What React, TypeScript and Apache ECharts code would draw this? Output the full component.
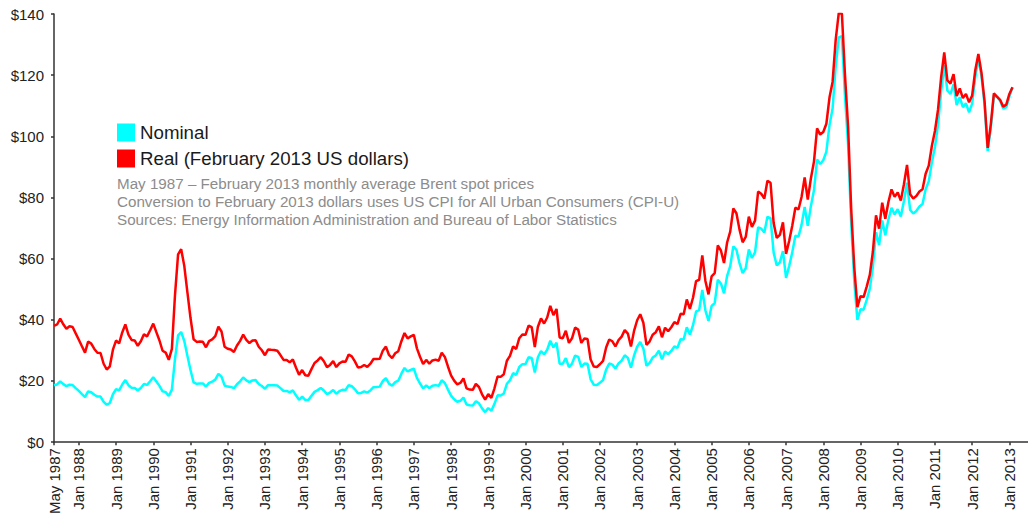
import React, { useEffect, useRef } from "react";
import * as echarts from "echarts";

const MONTHS = ["Jan", "Feb", "Mar", "Apr", "May", "Jun", "Jul", "Aug", "Sep", "Oct", "Nov", "Dec"];
const START_YEAR = 1987;
const START_MONTH = 4; // May
const AXIS_MONTHS = 315; // May 1987 .. Jul 2013 (axis runs a little past the data)

// Monthly average Brent spot price, nominal US$ (May 1987 – Feb 2013)
const nominal: number[] = [
  18.58, 18.86, 19.86, 18.98, 18.31, 18.76, 18.67, 17.67,
  16.75, 15.73, 14.73, 16.6, 16.31, 15.49, 14.9, 14.91, 13.15, 12.22, 12.8, 15.66,
  17.33, 16.91, 18.85, 20.31, 18.61, 17.76, 17.74, 16.87, 17.72, 19.02, 18.72, 19.89,
  21.25, 19.81, 18.39, 16.61, 16.35, 15.1, 17.17, 27.17, 34.9, 36.02, 33.07, 28.27,
  23.57, 19.54, 19.08, 19.18, 19.19, 18.17, 19.4, 19.77, 20.45, 22.3, 21.43, 18.53,
  18.16, 18.05, 17.63, 18.92, 19.89, 21.16, 20.21, 19.61, 20.17, 20.28, 19.02, 18.37,
  17.45, 18.63, 18.6, 18.63, 18.51, 17.66, 16.71, 16.74, 16.27, 16.91, 15.3, 13.84,
  14.84, 13.8, 13.74, 15.13, 16.43, 17.0, 17.72, 16.9, 15.71, 16.21, 17.04, 15.83,
  16.67, 17.11, 17.06, 18.64, 18.29, 17.26, 15.96, 16.09, 16.58, 16.2, 16.91, 17.97,
  18.05, 18.15, 19.98, 20.93, 19.14, 18.49, 19.61, 20.1, 22.37, 24.25, 23.1, 23.62,
  24.06, 21.04, 19.17, 17.56, 18.52, 17.68, 18.44, 18.64, 18.43, 20.23, 19.32, 17.18,
  15.19, 14.01, 13.19, 13.51, 14.56, 12.3, 12.05, 12.01, 13.38, 12.69, 11.02, 9.82,
  11.12, 10.27, 12.51, 15.29, 15.23, 15.86, 19.08, 20.25, 22.55, 21.98, 24.58, 25.5,
  25.51, 27.78, 27.49, 22.76, 27.74, 29.8, 28.68, 30.2, 33.14, 30.96, 32.55, 25.66,
  25.62, 27.5, 24.5, 25.66, 28.31, 27.85, 24.61, 25.68, 25.62, 20.54, 18.8, 18.71,
  19.42, 20.28, 23.7, 25.73, 25.35, 24.08, 25.74, 26.65, 28.4, 27.54, 24.34, 28.33,
  31.18, 32.77, 30.61, 25.0, 25.86, 27.65, 28.35, 29.89, 27.11, 29.61, 28.75, 29.81,
  31.28, 30.86, 33.63, 33.59, 37.57, 35.18, 38.22, 42.74, 43.2, 49.78, 43.11, 39.6,
  44.51, 45.48, 53.1, 51.88, 48.65, 54.35, 57.52, 63.98, 62.91, 58.54, 55.24, 56.86,
  62.99, 60.21, 62.06, 70.26, 69.78, 68.56, 73.67, 73.23, 61.96, 57.81, 58.76, 62.47,
  53.68, 57.56, 62.05, 67.49, 67.21, 71.05, 76.93, 70.76, 77.17, 82.34, 92.41, 90.93,
  92.18, 94.99, 103.64, 109.07, 122.8, 132.32, 132.72, 113.24, 97.23, 71.58, 52.45, 39.95,
  43.44, 43.32, 46.54, 50.18, 57.3, 68.61, 64.44, 72.51, 67.65, 72.77, 76.66, 74.46,
  76.17, 73.75, 78.83, 84.82, 75.95, 74.76, 75.58, 77.04, 77.84, 82.67, 85.28, 91.45,
  96.52, 103.72, 114.64, 123.26, 114.99, 113.83, 116.97, 110.22, 112.83, 109.55, 110.77, 107.87,
  110.69, 119.33, 125.45, 119.75, 110.34, 95.16, 102.62, 113.36, 112.86, 111.71, 109.06, 109.49,
  112.96, 116.05,
];

// Same prices in February 2013 US dollars
const real: number[] = [
  38.01, 38.47, 40.42, 38.53, 37.08, 37.9, 37.64, 35.55,
  33.5, 31.37, 29.27, 32.88, 32.21, 30.48, 29.23, 29.15, 25.63, 23.74, 24.78, 30.22,
  33.22, 32.3, 35.87, 38.51, 35.15, 33.42, 33.26, 31.51, 32.98, 35.26, 34.58, 36.6,
  38.74, 35.96, 33.23, 29.88, 29.28, 26.92, 30.48, 48.01, 61.39, 63.07, 57.64, 49.05,
  40.66, 33.63, 32.78, 32.87, 32.81, 31.02, 33.04, 33.59, 34.68, 37.73, 36.17, 31.2,
  30.53, 30.27, 29.5, 31.58, 33.12, 35.15, 33.47, 32.4, 33.24, 33.34, 31.19, 30.05,
  28.41, 30.27, 30.17, 30.14, 29.89, 28.47, 26.89, 26.88, 26.08, 27.04, 24.42, 22.05,
  23.57, 21.87, 21.72, 23.88, 25.88, 26.71, 27.78, 26.45, 24.52, 25.25, 26.48, 24.55,
  25.76, 26.38, 26.26, 28.63, 28.04, 26.41, 24.39, 24.54, 25.23, 24.61, 25.64, 27.19,
  27.15, 27.23, 29.91, 31.25, 28.5, 27.48, 29.06, 29.73, 33.0, 35.67, 33.91, 34.58,
  35.1, 30.66, 27.91, 25.53, 26.89, 25.65, 26.72, 26.97, 26.63, 29.21, 27.86, 24.74,
  21.83, 20.1, 18.9, 19.35, 20.82, 17.56, 17.18, 17.1, 19.03, 18.03, 15.64, 13.92,
  15.71, 14.48, 17.6, 21.47, 21.34, 22.17, 26.62, 28.19, 31.32, 30.46, 33.99, 35.19,
  35.1, 38.11, 37.61, 31.07, 37.75, 40.44, 38.8, 40.74, 44.57, 41.55, 43.55, 34.23,
  33.97, 36.44, 32.44, 33.95, 37.43, 36.79, 32.46, 33.85, 33.74, 27.03, 24.72, 24.59,
  25.46, 26.55, 30.95, 33.55, 32.98, 31.28, 33.36, 34.49, 36.66, 35.5, 31.3, 36.38,
  39.85, 41.82, 39.03, 31.83, 32.89, 35.12, 35.95, 37.87, 34.29, 37.4, 36.28, 37.56,
  39.23, 38.61, 41.97, 41.82, 46.66, 43.59, 47.2, 52.66, 53.09, 61.03, 52.72, 48.31,
  54.21, 55.26, 64.3, 62.67, 58.57, 65.27, 68.85, 76.39, 74.86, 69.49, 65.35, 67.09,
  73.76, 70.39, 72.42, 81.92, 81.22, 79.67, 85.46, 84.8, 71.63, 66.77, 67.75, 71.9,
  61.57, 65.79, 70.74, 76.67, 76.08, 80.14, 86.55, 79.32, 86.2, 91.73, 102.58, 100.57,
  101.4, 104.11, 112.66, 117.8, 131.52, 140.39, 140.15, 120.03, 103.16, 76.3, 56.96, 44.14,
  47.74, 47.44, 50.87, 54.7, 62.34, 74.17, 69.79, 78.31, 73.06, 78.52, 82.64, 80.27,
  81.65, 78.97, 84.32, 90.63, 81.06, 79.7, 80.49, 81.95, 82.71, 87.74, 90.41, 96.84,
  101.73, 108.8, 119.34, 127.45, 118.33, 117.24, 120.36, 113.2, 115.65, 112.51, 113.87, 111.11,
  113.35, 121.6, 126.96, 120.83, 111.44, 96.21, 103.85, 114.04, 112.97, 111.93, 109.71, 110.37,
  113.86, 116.05,
];

const yTicks = { min: 0, max: 140, interval: 20 };

const notes: string[] = [
  "May 1987 \u2013 February 2013 monthly average Brent spot prices",
  "Conversion to February 2013 dollars uses US CPI for All Urban Consumers (CPI-U)",
  "Sources: Energy Information Administration and Bureau of Labor Statistics",
];

const categories: string[] = [];
for (let i = 0; i < AXIS_MONTHS; i++) {
  const m = (START_MONTH + i) % 12;
  const y = START_YEAR + Math.floor((START_MONTH + i) / 12);
  categories.push(`${MONTHS[m]} ${y}`);
}

const pad = (arr: number[]) => {
  const out: (number | null)[] = arr.slice();
  while (out.length < AXIS_MONTHS) out.push(null);
  return out;
};

const FONT = "'Liberation Sans', Arial, sans-serif";

export default function App() {
  const ref = useRef<HTMLDivElement>(null);
  useEffect(() => {
    if (!ref.current) return;
    const chart = echarts.init(ref.current, null, { renderer: "svg" });
    const showIdx = (index: number) => index === 0 || categories[index].startsWith("Jan");
    chart.setOption({
      animation: false,
      backgroundColor: "#ffffff",
      textStyle: { fontFamily: FONT },
      grid: { left: 54, width: 974, top: 14, height: 433, containLabel: false },
      legend: {
        orient: "vertical",
        left: 117,
        top: 123,
        padding: 0,
        itemWidth: 18,
        itemHeight: 18,
        itemGap: 7,
        icon: "rect",
        textStyle: { fontSize: 18.7, color: "#1a1a1a", fontFamily: FONT },
        data: ["Nominal", "Real (February 2013 US dollars)"],
      },
      graphic: notes.map((t, i) => ({
        type: "text",
        left: 117,
        top: 176 + i * 18,
        style: { text: t, fill: "#8c8c8c", fontSize: 15.2, fontFamily: FONT },
      })),
      xAxis: {
        type: "category",
        data: categories,
        boundaryGap: false,
        axisLine: { show: true, lineStyle: { color: "#333", width: 1.5 } },
        axisTick: { show: true, length: 3, interval: (i: number) => showIdx(i), lineStyle: { color: "#333", width: 1.5 } },
        axisLabel: {
          interval: (i: number) => showIdx(i),
          rotate: 90,
          margin: 6,
          fontSize: 15,
          color: "#222",
          fontFamily: FONT,
        },
        splitLine: { show: false },
      },
      yAxis: {
        type: "value",
        min: yTicks.min,
        max: yTicks.max,
        interval: yTicks.interval,
        axisLine: { show: true, lineStyle: { color: "#333", width: 1.5 } },
        axisTick: { show: true, length: 3, lineStyle: { color: "#333", width: 1.5 } },
        axisLabel: { formatter: "${value}", fontSize: 15, color: "#222", margin: 10, fontFamily: FONT },
        splitLine: { show: false },
      },
      series: [
        {
          name: "Nominal",
          type: "line",
          data: pad(nominal),
          symbol: "none",
          color: "#00ffff",
          lineStyle: { color: "#00ffff", width: 2.5 },
        },
        {
          name: "Real (February 2013 US dollars)",
          type: "line",
          data: pad(real),
          symbol: "none",
          color: "#ff0000",
          lineStyle: { color: "#ff0000", width: 2.5 },
        },
      ],
    });
    return () => chart.dispose();
  }, []);
  return (
    <div
      ref={ref}
      style={{ position: "fixed", left: 0, top: 0, width: 1028, height: 517 }}
    />
  );
}
